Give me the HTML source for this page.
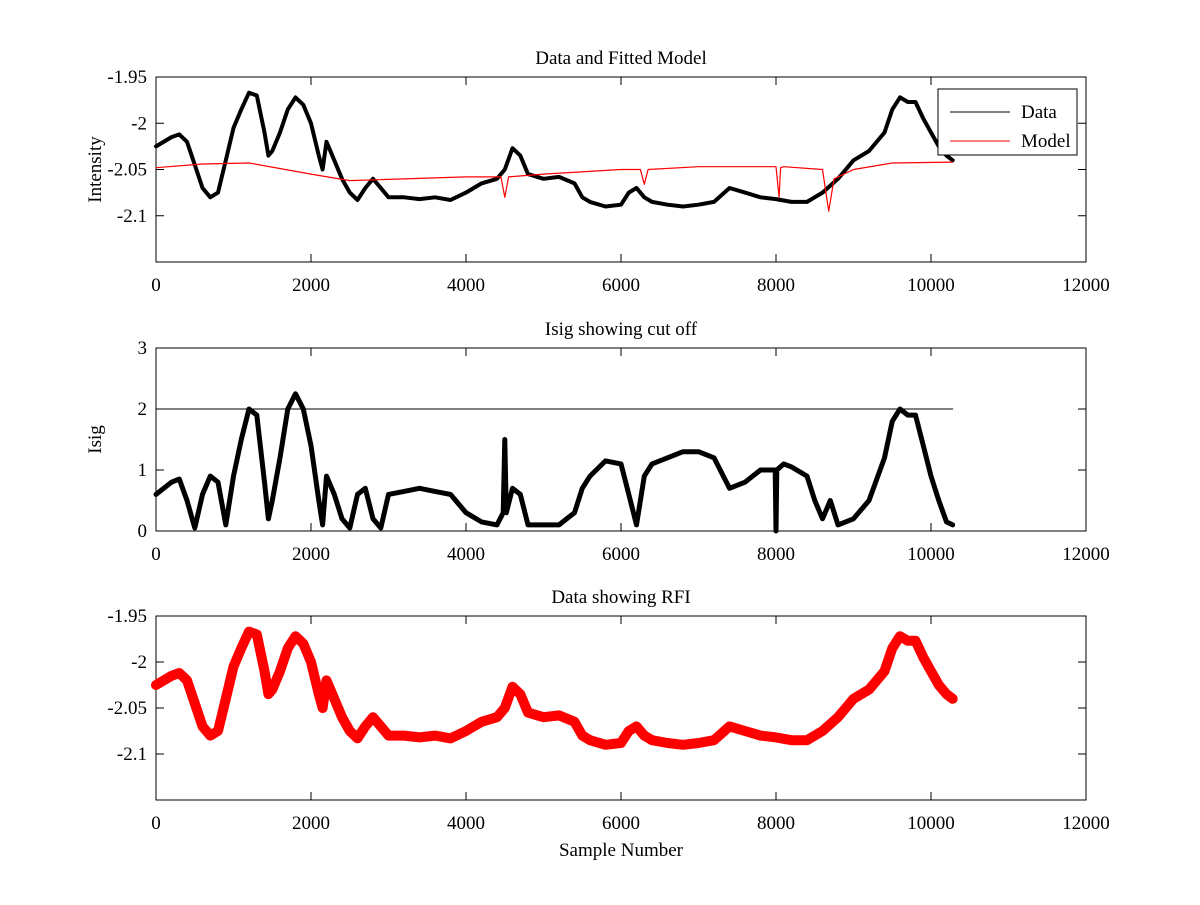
<!DOCTYPE html>
<html><head><meta charset="utf-8"><style>
body{margin:0;background:#fff}
svg text{font-family:"Liberation Serif",serif;font-size:19px;fill:#000}
</style></head><body>
<svg id="fig" width="1200" height="900" viewBox="0 0 1200 900" xmlns="http://www.w3.org/2000/svg"></svg>
<script>
const dataX=[0,200,300,400,500,600,700,800,900,1000,1100,1200,1300,1400,1450,1500,1600,1700,1800,1900,2000,2100,2150,2200,2300,2400,2500,2600,2700,2800,2900,3000,3200,3400,3600,3800,4000,4200,4400,4500,4600,4700,4800,5000,5200,5400,5500,5600,5800,6000,6100,6200,6300,6400,6600,6800,7000,7200,7400,7600,7800,8000,8200,8400,8600,8800,9000,9200,9400,9500,9600,9700,9800,9900,10000,10100,10200,10280];
const dataY=[-2.025,-2.015,-2.012,-2.02,-2.045,-2.07,-2.08,-2.075,-2.04,-2.005,-1.985,-1.967,-1.97,-2.01,-2.035,-2.03,-2.01,-1.985,-1.972,-1.98,-2.0,-2.035,-2.05,-2.02,-2.04,-2.06,-2.075,-2.083,-2.07,-2.06,-2.07,-2.08,-2.08,-2.082,-2.08,-2.083,-2.075,-2.065,-2.06,-2.05,-2.027,-2.035,-2.055,-2.06,-2.058,-2.065,-2.08,-2.085,-2.09,-2.088,-2.075,-2.07,-2.08,-2.085,-2.088,-2.09,-2.088,-2.085,-2.07,-2.075,-2.08,-2.082,-2.085,-2.085,-2.075,-2.06,-2.04,-2.03,-2.01,-1.985,-1.972,-1.977,-1.977,-1.995,-2.01,-2.025,-2.035,-2.04];
const modelX=[0,600,1200,2000,2500,4000,4450,4500,4550,5000,6000,6250,6300,6350,7000,8000,8040,8060,8100,8600,8680,8750,9000,9500,10280];
const modelY=[-2.048,-2.044,-2.043,-2.055,-2.062,-2.058,-2.058,-2.08,-2.058,-2.055,-2.05,-2.05,-2.066,-2.05,-2.047,-2.047,-2.08,-2.048,-2.047,-2.05,-2.095,-2.06,-2.05,-2.043,-2.042];
const isigX=[0,200,300,400,500,600,700,800,900,1000,1100,1200,1300,1400,1450,1500,1600,1700,1800,1900,2000,2100,2150,2200,2300,2400,2500,2600,2700,2800,2900,3000,3200,3400,3600,3800,4000,4200,4400,4480,4500,4520,4600,4700,4800,5000,5200,5400,5500,5600,5800,6000,6100,6200,6300,6400,6600,6800,7000,7200,7400,7600,7800,7990,8000,8010,8100,8200,8400,8500,8600,8700,8800,9000,9200,9400,9500,9600,9700,9800,9900,10000,10100,10200,10280];
const isigY=[0.6,0.8,0.85,0.5,0.05,0.6,0.9,0.8,0.1,0.9,1.5,2.0,1.9,0.8,0.2,0.5,1.2,2.0,2.25,2.0,1.4,0.5,0.1,0.9,0.6,0.2,0.05,0.6,0.7,0.2,0.05,0.6,0.65,0.7,0.65,0.6,0.3,0.15,0.1,0.3,1.5,0.3,0.7,0.6,0.1,0.1,0.1,0.3,0.7,0.9,1.15,1.1,0.6,0.1,0.9,1.1,1.2,1.3,1.3,1.2,0.7,0.8,1.0,1.0,0.0,1.0,1.1,1.05,0.9,0.5,0.2,0.5,0.1,0.2,0.5,1.2,1.8,2.0,1.9,1.9,1.4,0.9,0.5,0.15,0.1];
const cutoffX=[0,10280];
const cutoffY=[2,2];
const xTicks=[0,2000,4000,6000,8000,10000,12000];
const yTicksI=[-1.95,-2,-2.05,-2.1];
const yTicksS=[0,1,2,3];

const svg=document.getElementById('fig');
const NS='http://www.w3.org/2000/svg';
function mk(tag,attrs,parent){const e=document.createElementNS(NS,tag);for(const k in attrs)e.setAttribute(k,attrs[k]);(parent||svg).appendChild(e);return e;}
const X0=156,X1=1086;
function sx(v){return X0+(v-0)/(12000)*(X1-X0);}
function axes(name,top,bot,ymin,ymax,yt,ylabelTxt,title){
  const g=mk('g',{});
  
  
  const sy=v=>bot-(v-ymin)/(ymax-ymin)*(bot-top);
  const fr=mk('rect',{x:X0,y:top,width:X1-X0,height:bot-top,fill:'none',stroke:'#000','stroke-width':1},g);
  
  
  xTicks.forEach(t=>{const x=sx(t);
    mk('line',{x1:x,y1:bot,x2:x,y2:bot-8,stroke:'#000'},g);
    mk('line',{x1:x,y1:top,x2:x,y2:top+8,stroke:'#000'},g);
    const tx=mk('text',{x:x,y:bot+29,'text-anchor':'middle'},g);tx.textContent=t;
    
    });
  yt.forEach(t=>{const y=sy(t);
    mk('line',{x1:X0,y1:y,x2:X0+8,y2:y,stroke:'#000'},g);
    mk('line',{x1:X1,y1:y,x2:X1-8,y2:y,stroke:'#000'},g);
    const tx=mk('text',{x:X0-9,y:y+6,'text-anchor':'end'},g);tx.textContent=t;
    
    });
  const ti=mk('text',{x:(X0+X1)/2,y:top-13,'text-anchor':'middle'},g);ti.textContent=title;
  
  
  if(ylabelTxt){const yl=mk('text',{x:0,y:0,'text-anchor':'middle',transform:`translate(101,${(top+bot)/2}) rotate(-90)`},g);yl.textContent=ylabelTxt;
    
    }
  return {g,sy};
}
function line(ax,xs,ys,color,w,name){
  const d=xs.map((x,i)=>(i?'L':'M')+sx(x).toFixed(1)+','+ax.sy(ys[i]).toFixed(1)).join('');
  const p=mk('path',{d:d,fill:'none',stroke:color,'stroke-width':w,'stroke-linejoin':'round','stroke-linecap':'round'},ax.g);
  
  
}
const a1=axes('data-model-axes',77,262,-2.15,-1.95,yTicksI,'Intensity','Data and Fitted Model');
line(a1,dataX,dataY,'#000',4,'data-line');
line(a1,modelX,modelY,'#f00',1.2,'model-line');
const lg=mk('g',{},a1.g);


mk('rect',{x:938,y:89,width:139,height:66,fill:'#fff',stroke:'#000'},lg);
mk('line',{x1:950,y1:112,x2:1010,y2:112,stroke:'#000'},lg);
mk('line',{x1:950,y1:141,x2:1010,y2:141,stroke:'#f00'},lg);
let t=mk('text',{x:1021,y:118},lg);t.textContent='Data';


t=mk('text',{x:1021,y:147},lg);t.textContent='Model';



const a2=axes('isig-axes',348,531,0,3,yTicksS,'Isig','Isig showing cut off');
line(a2,isigX,isigY,'#000',5,'isig-line');
line(a2,cutoffX,cutoffY,'#000',1,'cutoff-line');

const a3=axes('rfi-axes',616,800,-2.15,-1.95,yTicksI,'','Data showing RFI');
line(a3,dataX,dataY,'#f00',10,'rfi-data-line');
const xl=mk('text',{x:(X0+X1)/2,y:856,'text-anchor':'middle'});xl.textContent='Sample Number';


</script>
</body></html>
